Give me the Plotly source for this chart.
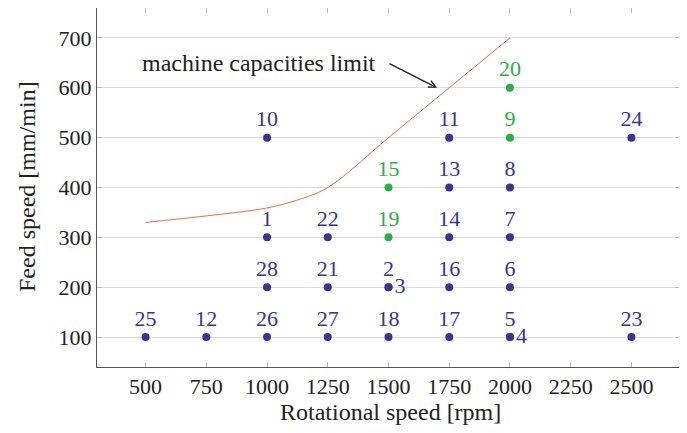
import plotly.graph_objects as go

# ---- data ----
point_ids = ["1", "2", "3", "4", "5", "6", "7", "8", "9", "10", "11", "12", "13", "14",
             "15", "16", "17", "18", "19", "20", "21", "22", "23", "24", "25", "26", "27", "28"]
rotational_speed = [1000, 1500, 1500, 2000, 2000, 2000, 2000, 2000, 2000, 1000, 1750, 750, 1750, 1750,
                    1500, 1750, 1750, 1500, 1500, 2000, 1250, 1250, 2500, 2500, 500, 1000, 1250, 1000]
feed_speed = [300, 200, 200, 100, 100, 200, 300, 400, 500, 500, 500, 100, 400, 300,
              400, 200, 100, 100, 300, 600, 200, 300, 100, 500, 100, 100, 100, 200]
highlighted = ["9", "15", "19", "20"]
low_label_ids = ["3", "4"]

limit_rpm = [500, 750, 1000, 1125, 1250, 1500, 1750, 2000]
limit_feed = [330, 343, 359, 375, 400, 500, 600, 700]

x_ticks = [500, 750, 1000, 1250, 1500, 1750, 2000, 2250, 2500]
y_ticks = [100, 200, 300, 400, 500, 600, 700]

BLUE = "#3b3393"
GREEN = "#2fac4a"
RED = "#f26a4f"
INK = "#222222"
FONT = "Liberation Serif, DejaVu Serif, serif"

# figure size compensates for the 8px default page margin
W, H = 679, 425
L, R, T, B = 89, 7, 0, 66
PW, PH = W - L - R, H - T - B

fig = go.Figure()

fig.add_trace(go.Scatter(x=limit_rpm, y=limit_feed, mode="lines",
                         line=dict(color=RED, width=1, shape="spline", smoothing=1.0),
                         hoverinfo="skip", showlegend=False))

colors = [GREEN if p in highlighted else BLUE for p in point_ids]
positions = ["middle right" if p in low_label_ids else "top center" for p in point_ids]

fig.add_trace(go.Scatter(x=rotational_speed, y=feed_speed, mode="markers+text",
                         text=point_ids, textposition=positions,
                         marker=dict(color=colors, size=8),
                         textfont=dict(family=FONT, size=22, color=colors),
                         showlegend=False))

fig.add_annotation(x=1700, y=600, ax=1498, ay=650, axref="x", ayref="y",
                   xref="x", yref="y", text="", showarrow=True,
                   arrowhead=5, arrowsize=1, arrowwidth=1.4, arrowcolor=INK)
fig.add_annotation(x=1457, y=650, xref="x", yref="y", text="machine capacities limit",
                   showarrow=False, xanchor="right", yanchor="middle",
                   font=dict(family=FONT, size=24, color=INK))

# axis titles
fig.add_annotation(x=(382 - L) / PW, y=-(404 - (H - B)) / PH, xref="paper", yref="paper",
                   text="Rotational speed [rpm]", showarrow=False,
                   xanchor="center", yanchor="middle",
                   font=dict(family=FONT, size=24, color=INK))
fig.add_annotation(x=-(L - 19) / PW, y=((H - B) - 179) / PH, xref="paper", yref="paper",
                   text="Feed speed [mm/min]", showarrow=False, textangle=-90,
                   xanchor="center", yanchor="middle",
                   font=dict(family=FONT, size=24, color=INK))

axis_common = dict(showline=True, linecolor="#555555", linewidth=1, mirror="ticks",
                   ticks="inside", ticklen=5, tickcolor="#bbbbbb", zeroline=False,
                   automargin=False,
                   tickfont=dict(family=FONT, size=22, color=INK))

fig.update_xaxes(range=[300, 2700], tickvals=x_ticks, showgrid=False, **axis_common)
fig.update_yaxes(range=[40, 760], tickvals=y_ticks, showgrid=True, gridcolor="#dddddd", gridwidth=1,
                 **axis_common)

fig.update_layout(width=W, height=H, margin=dict(l=L, r=R, t=T, b=B),
                  paper_bgcolor="white", plot_bgcolor="white")

fig.write_html("out.html")
